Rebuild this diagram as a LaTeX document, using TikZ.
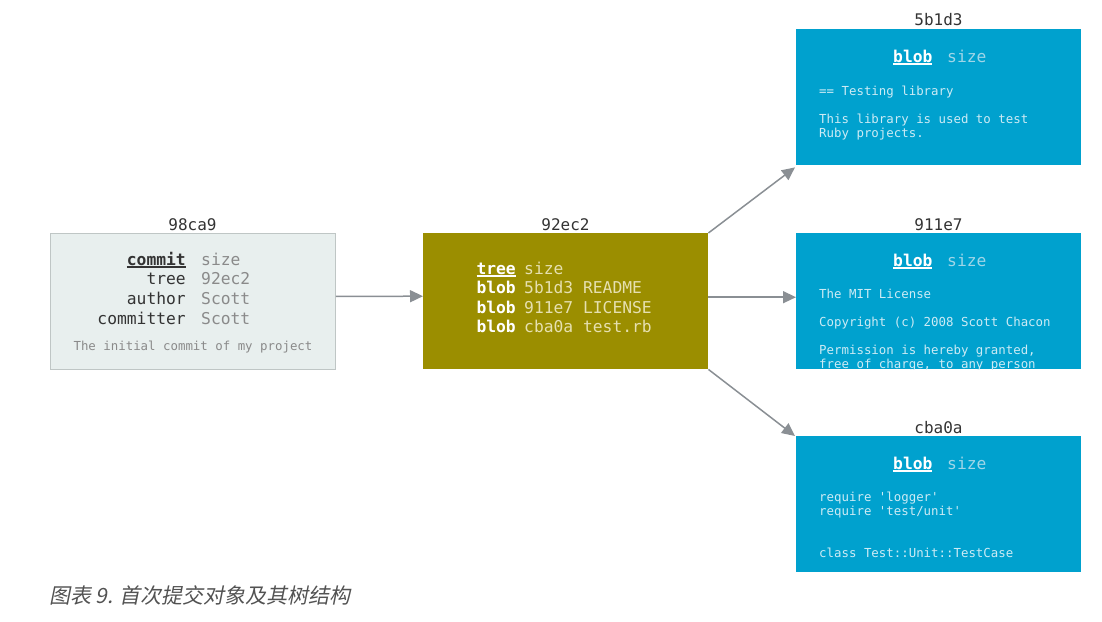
\documentclass[tikz,border=0pt]{standalone}
\usepackage{fontspec}
\setmonofont{DejaVu Sans Mono}
\newfontfamily\cjk[FakeSlant=0.2]{Noto Sans CJK SC}
\usetikzlibrary{arrows.meta}
\definecolor{commitfill}{HTML}{E8EFEE}
\definecolor{commitdraw}{HTML}{BFC6C5}
\definecolor{treefill}{HTML}{9B8E00}
\definecolor{blobfill}{HTML}{00A1CE}
\definecolor{darktxt}{HTML}{333333}
\definecolor{graytxt}{HTML}{8A8A8A}
\definecolor{treelight}{HTML}{E6E0B0}
\definecolor{bloblight}{HTML}{CDEBF5}
\definecolor{blobsize}{HTML}{A0D6E8}
\definecolor{arrowgray}{HTML}{8A8F94}
\newcommand{\myul}[1]{{\setbox0\hbox{#1}\rlap{\rule[-2.6pt]{\wd0}{1.4pt}}\box0}}
\tikzset{
  box/.style={minimum width=285pt, minimum height=136pt, inner sep=0pt, anchor=north west},
  commitbox/.style={box, fill=commitfill, draw=commitdraw, line width=0.8pt},
  treebox/.style={box, fill=treefill},
  blobbox/.style={box, fill=blobfill},
  hashlabel/.style={font=\ttfamily\fontsize{16}{18}\selectfont, text=darktxt, inner sep=0pt, anchor=base},
  big/.style={font=\ttfamily\fontsize{16.3}{19}\selectfont, inner sep=0pt},
  small/.style={font=\ttfamily\fontsize{12.4}{14}\selectfont, inner sep=0pt, anchor=base west, text=bloblight},
  conn/.style={draw=arrowgray, line width=1.5pt, -{Triangle[length=13pt,width=12pt]}},
}
\begin{document}
\begin{tikzpicture}[x=1pt,y=-1pt]
\useasboundingbox (0,0) rectangle (1102,621);
% boxes
\node[commitbox] (commit) at (50,233) {};
\node[treebox] (tree) at (423,233) {};
\node[blobbox] (b1) at (796,29) {};
\node[blobbox] (b2) at (796,233) {};
\node[blobbox] (b3) at (796,436) {};
% hash labels
\node[hashlabel] (lc) at (192.5,230) {98ca9};
\node[hashlabel] (lt) at (565.5,230) {92ec2};
\node[hashlabel] (l1) at (938.5,25) {5b1d3};
\node[hashlabel] (l2) at (938.5,230) {911e7};
\node[hashlabel] (l3) at (938.5,433) {cba0a};
% commit content
\node[big, anchor=base east, text=darktxt] (c1) at (186,265) {\textbf{\myul{commit}}};
\node[big, anchor=base east, text=darktxt] (c2) at (186,284) {tree};
\node[big, anchor=base east, text=darktxt] (c3) at (186,304) {author};
\node[big, anchor=base east, text=darktxt] (c4) at (186,324) {committer};
\node[big, anchor=base west, text=graytxt] (v1) at (201,265) {size};
\node[big, anchor=base west, text=graytxt] (v2) at (201,284) {92ec2};
\node[big, anchor=base west, text=graytxt] (v3) at (201,304) {Scott};
\node[big, anchor=base west, text=graytxt] (v4) at (201,324) {Scott};
\node[small, anchor=base, text=graytxt] (cm) at (193,350) {The initial commit of my project};
% tree content
\node[big, anchor=base east, text=white] (t1) at (516,274) {\textbf{\myul{tree}}};
\node[big, anchor=base east, text=white] (t2) at (516,293) {\textbf{blob}};
\node[big, anchor=base east, text=white] (t3) at (516,313) {\textbf{blob}};
\node[big, anchor=base east, text=white] (t4) at (516,332) {\textbf{blob}};
\node[big, anchor=base west, text=treelight] (s1) at (524,274) {size};
\node[big, anchor=base west, text=treelight] (s2) at (524,293) {5b1d3 README};
\node[big, anchor=base west, text=treelight] (s3) at (524,313) {911e7 LICENSE};
\node[big, anchor=base west, text=treelight] (s4) at (524,332) {cba0a test.rb};
% blob 1
\node[big, anchor=base west, text=white] (h1) at (893,62) {\textbf{\myul{blob}}};
\node[big, anchor=base west, text=blobsize] (z1) at (947,62) {size};
\node[small] (a1) at (819,95) {== Testing library};
\node[small] (a2) at (819,123) {This library is used to test};
\node[small] (a3) at (819,137) {Ruby projects.};
% blob 2
\node[big, anchor=base west, text=white] (h2) at (893,266) {\textbf{\myul{blob}}};
\node[big, anchor=base west, text=blobsize] (z2) at (947,266) {size};
\begin{scope}
\clip (b2.north west) rectangle (b2.south east);
\node[small] (m1) at (819,298) {The MIT License};
\node[small] (m2) at (819,326) {Copyright (c) 2008 Scott Chacon};
\node[small] (m3) at (819,354) {Permission is hereby granted,};
\node[small] (m4) at (819,368) {free of charge, to any person};
\end{scope}
% blob 3
\node[big, anchor=base west, text=white] (h3) at (893,469) {\textbf{\myul{blob}}};
\node[big, anchor=base west, text=blobsize] (z3) at (947,469) {size};
\node[small] (r1) at (819,501) {require 'logger'};
\node[small] (r2) at (819,515) {require 'test/unit'};
\node[small] (r3) at (819,557) {class Test::Unit::TestCase};
% connectors
\draw[conn] ([yshift=5pt]commit.east) -- ([yshift=5pt]tree.west);
\draw[conn] (tree.north east) -- ([xshift=-1pt,yshift=-2pt]b1.south west);
\draw[conn] ([yshift=4pt]tree.east) -- ([yshift=4pt]b2.west);
\draw[conn] (tree.south east) -- ([xshift=-1pt]b3.north west);
% caption
\node[inner sep=0pt, anchor=base west, text=darktxt!85, font=\cjk\fontsize{21}{24}\selectfont] (cap) at (49,603) {图表 9. 首次提交对象及其树结构};
\end{tikzpicture}
\end{document}
